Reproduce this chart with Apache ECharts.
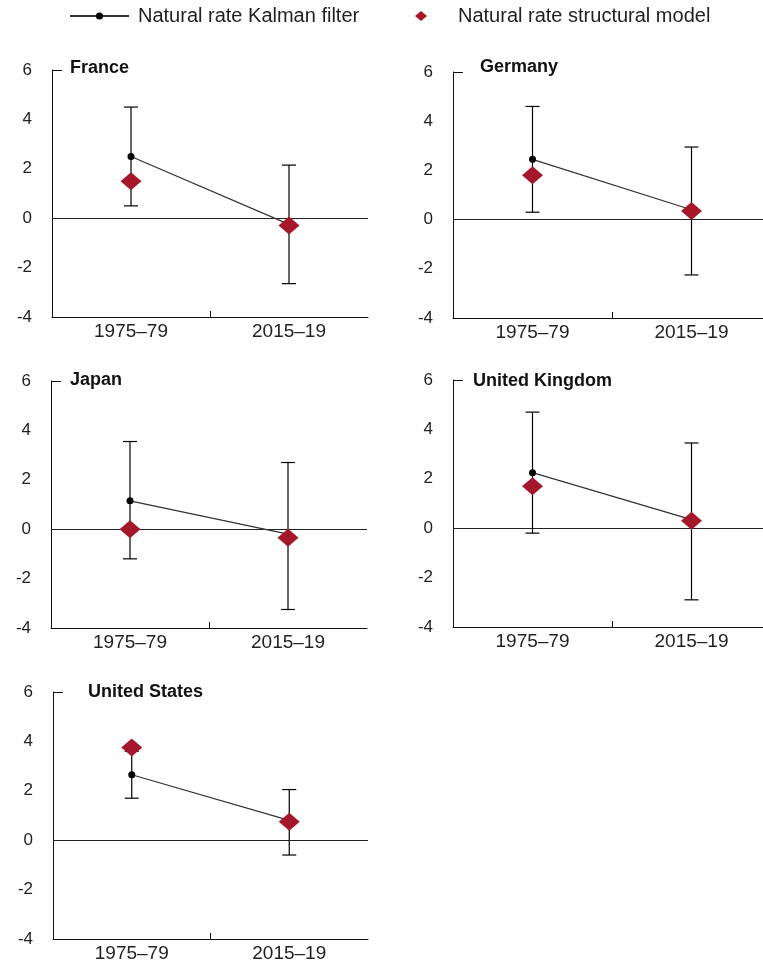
<!DOCTYPE html>
<html>
<head>
<meta charset="utf-8">
<script src="https://cdn.jsdelivr.net/npm/echarts@6/dist/echarts.min.js"></script>
<style>
  html, body { margin: 0; padding: 0; background: #fff; }
  #chart { width: 763px; height: 963px; }
</style>
</head>
<body>
<div id="chart"></div>
<script>
// Natural rate of interest estimates, by country and period (per cent)
const periods = ['1975–79', '2015–19'];
const countries = ['France', 'Germany', 'Japan', 'United Kingdom', 'United States'];

// Kalman filter point estimates
const kalman1975 = [2.5, 2.45, 1.15, 2.25, 2.65];
const kalman2015 = [-0.25, 0.4, -0.2, 0.35, 0.8];

// Structural model estimates
const structural1975 = [1.5, 1.8, 0, 1.7, 3.75];
const structural2015 = [-0.3, 0.35, -0.35, 0.3, 0.75];

// Kalman filter confidence bands
const lower1975 = [0.5, 0.3, -1.2, -0.2, 1.7];
const upper1975 = [4.5, 4.6, 3.55, 4.7, 3.6];
const lower2015 = [-2.65, -2.25, -3.25, -2.9, -0.6];
const upper2015 = [2.15, 2.95, 2.7, 3.45, 2.05];

// y-axis scale
const yMin = -4;
const yMax = 6;
const yStep = 2;

const KALMAN = 'Natural rate Kalman filter';
const STRUCT = 'Natural rate structural model';
const RED = '#a5182c';
const FONT = '"Liberation Sans", Arial, sans-serif';

// panel frames
const frames = [
  { left: 52, top: 70, width: 316, height: 247, titleLeft: 70, titleTop: 59 },
  { left: 453, top: 72, width: 318, height: 246, titleLeft: 480, titleTop: 58 },
  { left: 51, top: 381, width: 316, height: 247, titleLeft: 70, titleTop: 371 },
  { left: 453, top: 380, width: 318, height: 247, titleLeft: 473, titleTop: 372 },
  { left: 53, top: 692, width: 315, height: 247, titleLeft: 88, titleTop: 683 }
];

const grids = [], xAxes = [], yAxes = [], titles = [], series = [];

countries.forEach((name, i) => {
  const f = frames[i];
  grids.push({
    left: f.left, top: f.top, width: f.width, height: f.height,
    containLabel: false, outerBoundsMode: 'none'
  });
  titles.push({
    text: name, left: f.titleLeft, top: f.titleTop, padding: 0,
    textStyle: { fontFamily: FONT, fontSize: 18, fontWeight: 'bold', color: '#111' }
  });
  // period axis
  xAxes.push({
    type: 'category', gridIndex: i, data: periods, boundaryGap: true,
    position: 'bottom', offset: 0,
    axisLine: { show: true, onZero: false, lineStyle: { color: '#111', width: 1 } },
    axisTick: { show: false },
    axisLabel: { fontFamily: FONT, fontSize: 19, color: '#222', margin: 5 },
    splitLine: { show: false }
  });
  // divider tick between the two periods
  xAxes.push({
    type: 'value', gridIndex: i, min: 0, max: 2,
    position: 'bottom', offset: 0,
    axisLine: { show: false, onZero: false },
    axisTick: { show: true, inside: true, length: 6, customValues: [1], lineStyle: { color: '#111' } },
    axisLabel: { show: false },
    splitLine: { show: false }
  });
  yAxes.push({
    type: 'value', gridIndex: i, min: yMin, max: yMax, interval: yStep,
    axisLine: { show: true, lineStyle: { color: '#111', width: 1 } },
    axisTick: { show: true, inside: true, length: 10, customValues: [yMax], lineStyle: { color: '#111' } },
    axisLabel: { fontFamily: FONT, fontSize: 17, color: '#222', margin: 20 },
    splitLine: { show: false }
  });

  const xi = i * 2;

  // confidence band whiskers
  series.push({
    type: 'custom', name: 'band', xAxisIndex: xi, yAxisIndex: i, silent: true, z: 2,
    data: [[0, lower1975[i], upper1975[i]], [1, lower2015[i], upper2015[i]]],
    renderItem: function (params, api) {
      const x = api.value(0);
      const lo = api.coord([x, api.value(1)]);
      const hi = api.coord([x, api.value(2)]);
      const cap = 7;
      const style = { stroke: '#000', lineWidth: 1.2 };
      return {
        type: 'group',
        children: [
          { type: 'line', shape: { x1: lo[0], y1: lo[1], x2: hi[0], y2: hi[1] }, style },
          { type: 'line', shape: { x1: lo[0] - cap, y1: lo[1], x2: lo[0] + cap, y2: lo[1] }, style },
          { type: 'line', shape: { x1: hi[0] - cap, y1: hi[1], x2: hi[0] + cap, y2: hi[1] }, style }
        ]
      };
    }
  });

  // Kalman filter estimates
  series.push({
    type: 'line', name: KALMAN, xAxisIndex: xi, yAxisIndex: i, z: 3,
    data: [kalman1975[i], kalman2015[i]],
    symbol: 'circle', symbolSize: 7, showSymbol: true,
    itemStyle: { color: '#000' },
    lineStyle: { color: '#333', width: 1.2 },
    emphasis: { disabled: true },
    markLine: {
      silent: true, symbol: 'none', label: { show: false },
      lineStyle: { color: '#222', width: 1, type: 'solid' },
      data: [{ yAxis: 0 }],
      z: 1
    }
  });

  // structural model estimates
  series.push({
    type: 'scatter', name: STRUCT, xAxisIndex: xi, yAxisIndex: i, z: 4,
    data: [structural1975[i], structural2015[i]],
    symbol: 'diamond', symbolSize: [21, 18],
    itemStyle: { color: RED, opacity: 1 },
    emphasis: { disabled: true }
  });
});

const option = {
  backgroundColor: '#fff',
  animation: false,
  title: titles,
  legend: [
    {
      data: [KALMAN], left: 69, top: 6, padding: 0,
      itemWidth: 59, itemHeight: 9, itemGap: 5,
      textStyle: { fontFamily: FONT, fontSize: 20, color: '#222', padding: [0, 0, 0, 4] }
    },
    {
      data: [{ name: STRUCT, icon: 'diamond', itemStyle: { color: RED } }],
      left: 415, top: 6, padding: 0, itemWidth: 12, itemHeight: 10,
      textStyle: { fontFamily: FONT, fontSize: 20, color: '#222', padding: [0, 0, 0, 26] }
    }
  ],
  grid: grids,
  xAxis: xAxes,
  yAxis: yAxes,
  series: series
};

const chart = echarts.init(document.getElementById('chart'), null, { renderer: 'canvas' });
chart.setOption(option);
</script>
</body>
</html>
